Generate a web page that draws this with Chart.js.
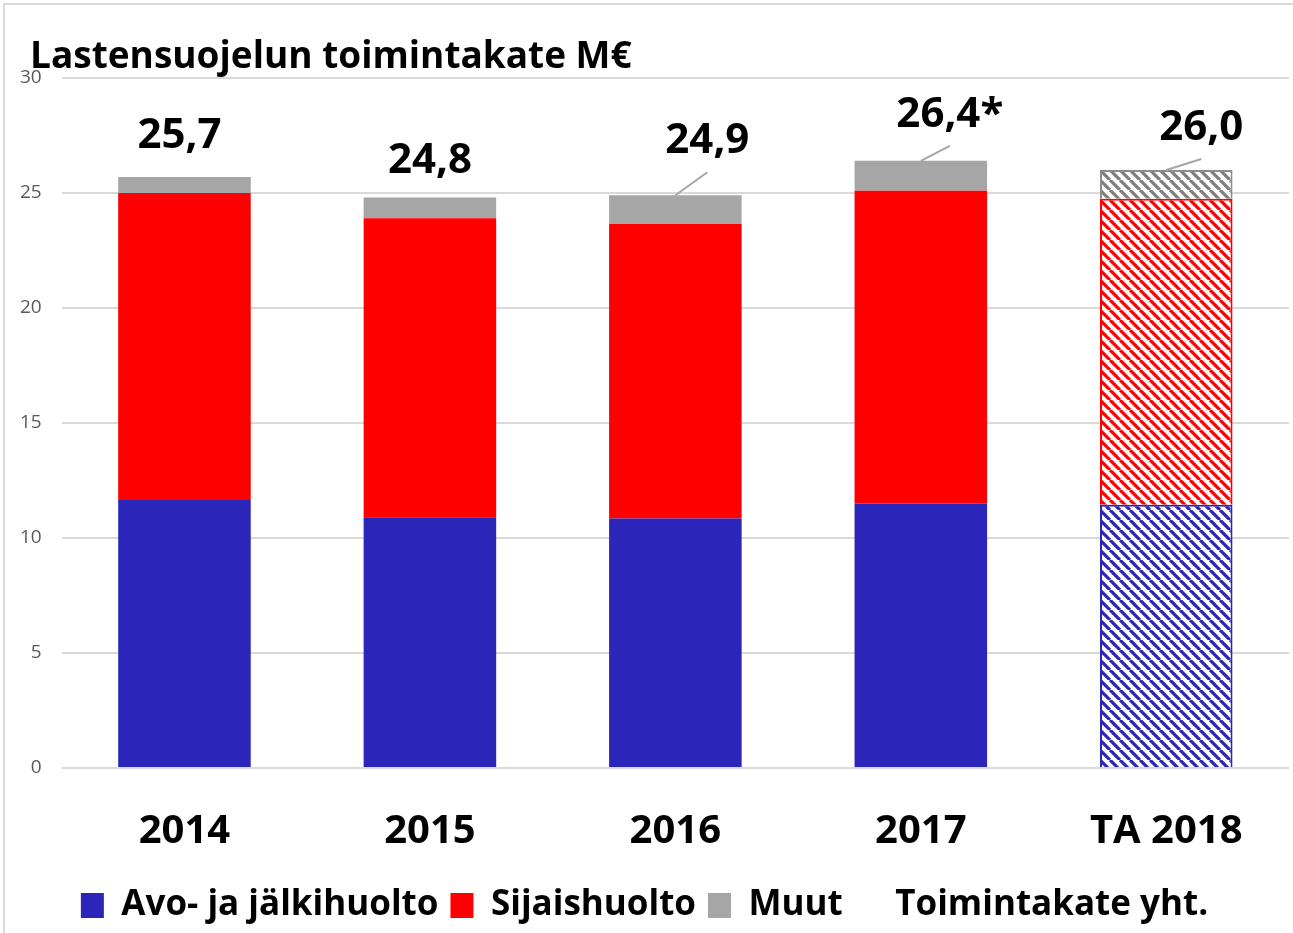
<!DOCTYPE html>
<html>
<head>
<meta charset="utf-8">
<script src="https://cdn.jsdelivr.net/npm/chart.js@4/dist/chart.umd.min.js"></script>
<style>
  html, body { margin: 0; padding: 0; background: #fff; }
  #wrap { width: 1293px; height: 933px; }
</style>
</head>
<body>
<div id="wrap"><canvas id="chart" width="1293" height="933"></canvas></div>
<script>
const categories = ["2014", "2015", "2016", "2017", "TA 2018"];
const avoJaJalkihuolto = [11.65, 10.9, 10.85, 11.5, 11.45];
const sijaishuolto = [13.35, 13.0, 12.8, 13.6, 13.3];
const muut = [0.7, 0.9, 1.25, 1.3, 1.25];
const toimintakateYht = [25.7, 24.8, 24.9, 26.4, 26.0];
const totalNotes = ["", "", "", "*", ""];
const yTicks = [0, 5, 10, 15, 20, 25, 30];

// label placement (px from the top of each bar), like the moved labels in the original
const labelOffsets = [[-5, -41], [0, -37], [32, -54], [29, -46], [35, -42]];

const BLUE = "#2c25b9";
const RED = "#ff0000";
const GREY = "#a6a6a6";
const FONT = "'Open Sans', sans-serif";

// diagonal hatch for the budget (TA) bar
function hatch(color) {
  const c = document.createElement("canvas");
  c.width = 10;
  c.height = 10;
  const g = c.getContext("2d");
  g.fillStyle = "#fff";
  g.fillRect(0, 0, 10, 10);
  g.strokeStyle = color;
  g.lineWidth = 3.2;
  g.beginPath();
  for (const o of [-10, 0, 10]) {
    g.moveTo(o, 0);
    g.lineTo(o + 10, 10);
  }
  g.stroke();
  return g.createPattern(c, "repeat");
}

const last = categories.length - 1;
const fills = (solid, pat) => categories.map((_, i) => (i === last ? pat : solid));
const borders = categories.map((_, i) => (i === last ? 2 : 0));

const extras = {
  id: "extras",
  beforeDraw(chart) {
    const ctx = chart.ctx;
    ctx.save();
    ctx.strokeStyle = "#d9d9d9";
    ctx.lineWidth = 2;
    ctx.strokeRect(4, 4, chart.width + 10, chart.height + 10);
    ctx.restore();
  },
  afterDraw(chart) {
    const ctx = chart.ctx;
    const area = chart.chartArea;
    ctx.save();
    // title
    ctx.fillStyle = "#000";
    ctx.font = "bold 37px " + FONT;
    ctx.textAlign = "left";
    ctx.textBaseline = "alphabetic";
    ctx.fillText("Lastensuojelun toimintakate M€", 30, area.top - 10);

    // total labels with leader lines
    const meta = chart.getDatasetMeta(3);
    meta.data.forEach((pt, i) => {
      const [dx, dy] = labelOffsets[i];
      const lx = pt.x + dx;
      const ly = pt.y + dy;
      if (Math.abs(dx) > 10) {
        ctx.strokeStyle = GREY;
        ctx.lineWidth = 2;
        ctx.beginPath();
        ctx.moveTo(pt.x, pt.y);
        ctx.lineTo(lx, ly + 31);
        ctx.stroke();
      }
      ctx.fillStyle = "#000";
      ctx.font = "bold 42px " + FONT;
      ctx.textAlign = "center";
      ctx.textBaseline = "middle";
      const txt = toimintakateYht[i].toFixed(1).replace(".", ",") + totalNotes[i];
      ctx.fillText(txt, lx, ly);
    });
    ctx.restore();
  }
};

new Chart(document.getElementById("chart"), {
  data: {
    labels: categories,
    datasets: [
      {
        type: "bar",
        label: "Avo- ja jälkihuolto",
        data: avoJaJalkihuolto,
        backgroundColor: fills(BLUE, hatch(BLUE)),
        borderColor: BLUE,
        borderWidth: borders,
        stack: "s"
      },
      {
        type: "bar",
        label: "Sijaishuolto",
        data: sijaishuolto,
        backgroundColor: fills(RED, hatch(RED)),
        borderColor: RED,
        borderWidth: borders,
        stack: "s"
      },
      {
        type: "bar",
        label: "Muut",
        data: muut,
        backgroundColor: fills(GREY, hatch("#7f7f7f")),
        borderColor: "#8c8c8c",
        borderWidth: borders,
        stack: "s"
      },
      {
        type: "line",
        label: "Toimintakate yht.",
        data: toimintakateYht,
        stack: "total",
        showLine: false,
        pointRadius: 0,
        backgroundColor: "rgba(0,0,0,0)",
        borderColor: "rgba(0,0,0,0)"
      }
    ]
  },
  options: {
    responsive: false,
    animation: false,
    layout: { padding: { top: 78, right: 4, left: 0, bottom: 0 } },
    datasets: { bar: { barPercentage: 0.54, categoryPercentage: 1 } },
    scales: {
      x: {
        stacked: true,
        grid: { display: false },
        border: { display: false },
        // tighten the gap between year labels and legend
        afterFit: (scale) => { scale.height -= 12; },
        ticks: {
          color: "#000",
          padding: 32,
          font: { family: FONT, size: 40, weight: "bold" }
        }
      },
      y: {
        stacked: true,
        min: 0,
        max: 30,
        afterBuildTicks: (axis) => { axis.ticks = yTicks.map(v => ({ value: v })); },
        grid: { color: "#d9d9d9", lineWidth: 2, drawTicks: false },
        border: { display: false },
        ticks: {
          color: "#595959",
          padding: 20,
          font: { family: FONT, size: 19 }
        }
      }
    },
    plugins: {
      legend: {
        position: "bottom",
        labels: {
          color: "#000",
          boxWidth: 23,
          boxHeight: 25,
          padding: 12,
          font: { family: FONT, size: 35, weight: "bold" }
        }
      },
      tooltip: { enabled: false }
    }
  },
  plugins: [extras]
});
</script>
</body>
</html>
